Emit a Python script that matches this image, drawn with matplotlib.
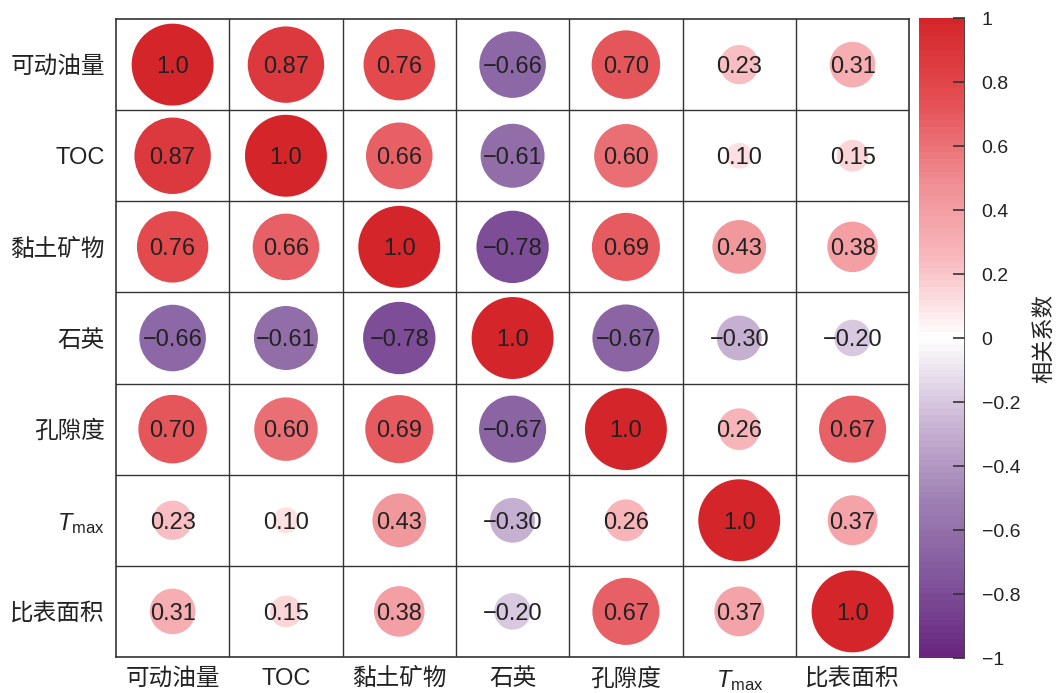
import numpy as np
import matplotlib.pyplot as plt
from matplotlib.colors import LinearSegmentedColormap, Normalize

plt.rcParams['font.family'] = ['Liberation Sans', 'Noto Sans CJK SC']
plt.rcParams['mathtext.fontset'] = 'custom'
plt.rcParams['mathtext.rm'] = 'Liberation Sans'
plt.rcParams['mathtext.it'] = 'Liberation Sans:italic'
plt.rcParams['axes.unicode_minus'] = True

# -----------------------
# Data
# -----------------------
labels = ["可动油量", "TOC", "黏土矿物", "石英", "孔隙度",
          r"$\mathit{T}_{\mathrm{max}}$", "比表面积"]

corr = np.array([
    [ 1.00,  0.87,  0.76, -0.66,  0.70,  0.23,  0.31],
    [ 0.87,  1.00,  0.66, -0.61,  0.60,  0.10,  0.15],
    [ 0.76,  0.66,  1.00, -0.78,  0.69,  0.43,  0.38],
    [-0.66, -0.61, -0.78,  1.00, -0.67, -0.30, -0.20],
    [ 0.70,  0.60,  0.69, -0.67,  1.00,  0.26,  0.67],
    [ 0.23,  0.10,  0.43, -0.30,  0.26,  1.00,  0.37],
    [ 0.31,  0.15,  0.38, -0.20,  0.67,  0.37,  1.00],
])

cbar_ticks = [1, 0.8, 0.6, 0.4, 0.2, 0, -0.2, -0.4, -0.6, -0.8, -1]

# -----------------------
# Colormap: purple - white - red
# -----------------------
cmap_nodes = [0.0, 0.125, 0.25, 0.375, 0.5, 0.625, 0.75, 0.875, 1.0]
cmap_colors = ["#68267f", "#82589d", "#a082b4", "#cdb9d7", "#ffffff",
               "#f8b9be", "#ef8c91", "#e44e53", "#d4262a"]
cmap = LinearSegmentedColormap.from_list(
    "pur_red", list(zip(cmap_nodes, cmap_colors)), N=100)
norm = Normalize(-1, 1)

# -----------------------
# Figure
# -----------------------
fig = plt.figure(figsize=(10.57, 6.93), dpi=100)
ax = fig.add_axes([0.1097, 0.052, 0.7505, 0.9205])
cax = fig.add_axes([0.8694, 0.0505, 0.0435, 0.9235])

n = len(labels)
xx, yy = np.meshgrid(np.arange(n) + 0.5, np.arange(n) + 0.5)
vals = corr.ravel()
ax.scatter(xx.ravel(), yy.ravel(), s=3480 * np.abs(vals), c=vals,
           cmap=cmap, norm=norm, linewidths=0, zorder=2)

for i in range(n):
    for j in range(n):
        v = corr[i, j]
        txt = "1.0" if i == j else f"{v:.2f}".replace("-", "\u2212")
        ax.text(j + 0.5, i + 0.525, txt, ha="center", va="center",
                fontsize=17, color="#222222", zorder=3)

# grid lines
for k in range(1, n):
    ax.axhline(k, color="#333333", lw=1, zorder=1)
    ax.axvline(k, color="#333333", lw=1, zorder=1)
for sp in ax.spines.values():
    sp.set_color("#333333")
    sp.set_linewidth(1.2)

ax.set_xlim(0, n)
ax.set_ylim(n, 0)
ax.set_xticks(np.arange(n) + 0.5)
ax.set_yticks(np.arange(n) + 0.5)
ax.set_xticklabels(labels, fontsize=17, color="#222222")
ax.set_yticklabels(labels, fontsize=17, color="#222222")
ax.tick_params(length=0, pad=8)

# -----------------------
# Colorbar
# -----------------------
sm = plt.cm.ScalarMappable(cmap=cmap, norm=norm)
cb = fig.colorbar(sm, cax=cax, ticks=cbar_ticks)
cb.outline.set_visible(False)
cax.axvline(1, color="#444444", lw=1.2)
cb.set_ticklabels(["1" if t == 1 else "0" if t == 0 else
                   "\u22121" if t == -1 else f"{t:.1f}".replace("-", "\u2212")
                   for t in cbar_ticks])
cax.tick_params(direction="in", length=9, width=1.2, color="#333333",
                labelsize=14, labelcolor="#222222", pad=12)
cb.set_label("相关系数", fontsize=16, color="#222222", labelpad=10)

fig.savefig("out.png", dpi=100)
